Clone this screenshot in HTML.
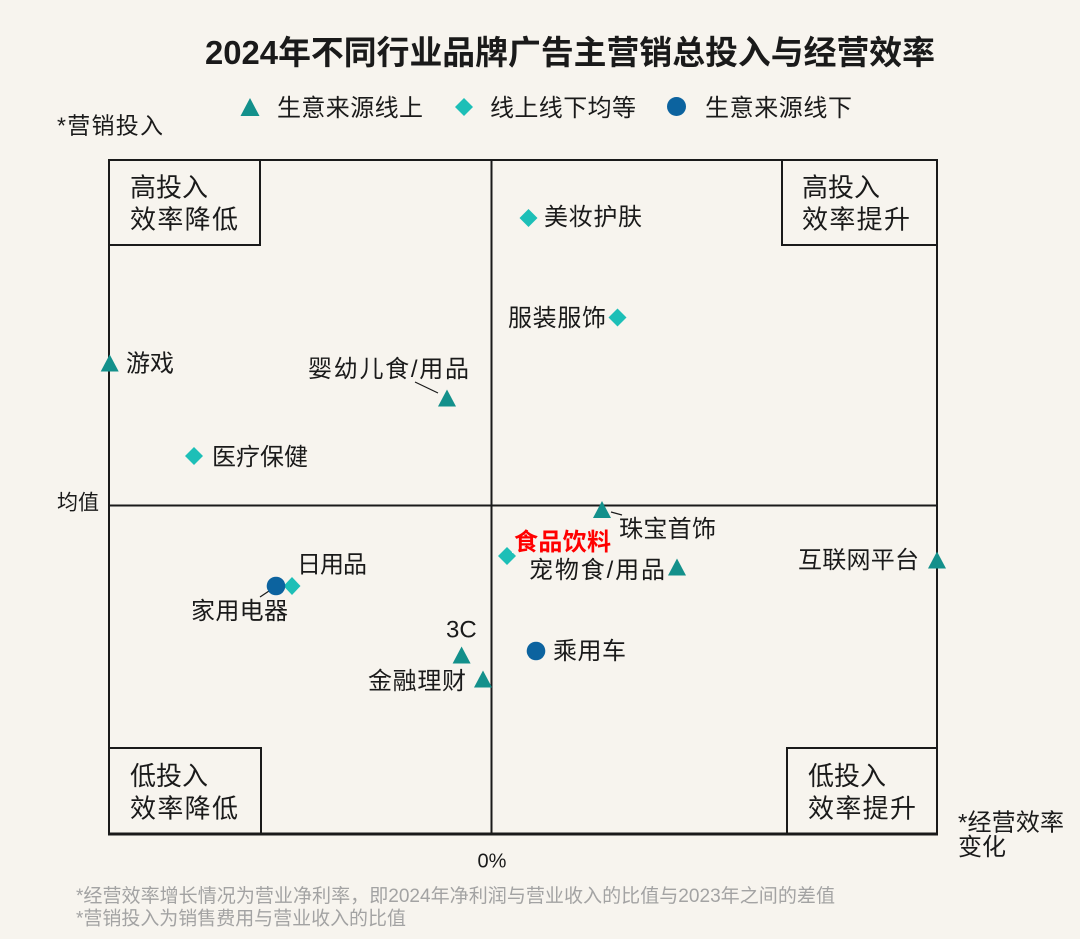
<!DOCTYPE html>
<html>
<head>
<meta charset="utf-8">
<style>
html,body{margin:0;padding:0;background:#f7f4ee;}
svg{display:block;}
text{font-family:"Liberation Sans","Noto Sans CJK SC",sans-serif;fill:#1a1a1a;}
</style>
</head>
<body>
<svg width="1080" height="939" viewBox="0 0 1080 939" xmlns="http://www.w3.org/2000/svg">
<rect x="0" y="0" width="1080" height="939" fill="#f7f4ee"/>

<!-- Title -->
<text x="205" y="64" font-size="33" font-weight="700" textLength="730" lengthAdjust="spacingAndGlyphs">2024年不同行业品牌广告主营销总投入与经营效率</text>

<!-- Legend -->
<polygon points="240.5,116 259.5,116 250,98" fill="#13908b"/>
<text x="277" y="116" font-size="24" textLength="146" lengthAdjust="spacing">生意来源线上</text>
<polygon points="464,98 473,107 464,116 455,107" fill="#1dbfb7"/>
<text x="490" y="116" font-size="24" textLength="146" lengthAdjust="spacing">线上线下均等</text>
<circle cx="676.5" cy="106.5" r="9.5" fill="#0c639f"/>
<text x="705" y="116" font-size="24" textLength="147" lengthAdjust="spacing">生意来源线下</text>

<!-- Axis titles -->
<text x="57" y="133.5" font-size="23" textLength="106" lengthAdjust="spacing">*营销投入</text>
<text x="57" y="509.5" font-size="21" textLength="42" lengthAdjust="spacing">均值</text>
<text x="492" y="867.5" font-size="20" text-anchor="middle">0%</text>
<text x="958" y="830.5" font-size="24" textLength="106" lengthAdjust="spacing">*经营效率</text>
<text x="958" y="855" font-size="24">变化</text>

<!-- Footnotes -->
<text x="76" y="902" font-size="19" style="fill:#a3a3a3" textLength="759" lengthAdjust="spacingAndGlyphs">*经营效率增长情况为营业净利率，即2024年净利润与营业收入的比值与2023年之间的差值</text>
<text x="76" y="924.5" font-size="19" style="fill:#a3a3a3" textLength="330" lengthAdjust="spacingAndGlyphs">*营销投入为销售费用与营业收入的比值</text>

<!-- Plot frame -->
<rect x="109" y="160" width="828" height="674" fill="none" stroke="#1a1a1a" stroke-width="2"/>
<line x1="108" y1="834" x2="938" y2="834" stroke="#1a1a1a" stroke-width="3"/>
<line x1="491.5" y1="160" x2="491.5" y2="834" stroke="#1a1a1a" stroke-width="2"/>
<line x1="109" y1="505.5" x2="937" y2="505.5" stroke="#1a1a1a" stroke-width="2"/>

<!-- Quadrant boxes -->
<rect x="109" y="160" width="151" height="85" fill="none" stroke="#1a1a1a" stroke-width="2"/>
<rect x="782" y="160" width="155" height="85" fill="none" stroke="#1a1a1a" stroke-width="2"/>
<rect x="109" y="748" width="152" height="86" fill="none" stroke="#1a1a1a" stroke-width="2"/>
<rect x="787" y="748" width="150" height="86" fill="none" stroke="#1a1a1a" stroke-width="2"/>

<text x="130" y="196.5" font-size="26">高投入</text>
<text x="130" y="228.5" font-size="26" textLength="108" lengthAdjust="spacing">效率降低</text>
<text x="802" y="196.5" font-size="26">高投入</text>
<text x="802" y="228.5" font-size="26" textLength="108" lengthAdjust="spacing">效率提升</text>
<text x="130" y="785" font-size="26">低投入</text>
<text x="130" y="817.5" font-size="26" textLength="108" lengthAdjust="spacing">效率降低</text>
<text x="808" y="785" font-size="26">低投入</text>
<text x="808" y="817.5" font-size="26" textLength="108" lengthAdjust="spacing">效率提升</text>

<!-- Leader lines -->
<line x1="415" y1="382" x2="438" y2="393" stroke="#1a1a1a" stroke-width="1.2"/>
<line x1="611" y1="512" x2="622" y2="515" stroke="#1a1a1a" stroke-width="1.2"/>
<line x1="260" y1="597" x2="269" y2="591" stroke="#1a1a1a" stroke-width="1.2"/>

<!-- Diamonds -->
<polygon points="194,447 203,456 194,465 185,456" fill="#1dbfb7"/>
<polygon points="528.5,209 537.5,218 528.5,227 519.5,218" fill="#1dbfb7"/>
<polygon points="617.5,308.5 626.5,317.5 617.5,326.5 608.5,317.5" fill="#1dbfb7"/>
<polygon points="507,547 516,556 507,565 498,556" fill="#1dbfb7"/>
<polygon points="292,577 300.5,586 292,595 283.5,586" fill="#1dbfb7"/>

<!-- Circles -->
<circle cx="276" cy="586" r="9.3" fill="#0c639f"/>
<circle cx="536" cy="651" r="9.3" fill="#0c639f"/>

<!-- Triangles -->
<polygon points="100.7,371.5 118.7,371.5 109.7,354.5" fill="#13908b"/>
<polygon points="438,406.5 456,406.5 447,389.5" fill="#13908b"/>
<polygon points="593,518 611,518 602,501" fill="#13908b"/>
<polygon points="668,575.5 686,575.5 677,558.5" fill="#13908b"/>
<polygon points="928,568.5 946,568.5 937,551.5" fill="#13908b"/>
<polygon points="452.6,663.5 470.6,663.5 461.6,646.5" fill="#13908b"/>
<polygon points="474,687.5 492,687.5 483,670.5" fill="#13908b"/>

<!-- Red label background (slightly overlaps diamond) -->
<rect x="512" y="528" width="100" height="25" fill="#f7f4ee"/>

<!-- Data labels -->
<text x="126" y="371.5" font-size="24" textLength="48" lengthAdjust="spacing">游戏</text>
<text x="308" y="377" font-size="24" textLength="161" lengthAdjust="spacing">婴幼儿食/用品</text>
<text x="212" y="465" font-size="24" textLength="96" lengthAdjust="spacing">医疗保健</text>
<text x="544" y="225" font-size="24" textLength="98" lengthAdjust="spacing">美妆护肤</text>
<text x="508" y="326" font-size="24" textLength="98" lengthAdjust="spacing">服装服饰</text>
<text x="619" y="537" font-size="24" textLength="97" lengthAdjust="spacing">珠宝首饰</text>
<text x="514" y="550" font-size="24" font-weight="700" style="fill:#ff0000" textLength="97" lengthAdjust="spacing">食品饮料</text>
<text x="529" y="578" font-size="24" textLength="136" lengthAdjust="spacing">宠物食/用品</text>
<text x="798" y="568" font-size="24" textLength="121" lengthAdjust="spacing">互联网平台</text>
<text x="297" y="572.5" font-size="24" textLength="70" lengthAdjust="spacing">日用品</text>
<text x="191" y="619" font-size="24" textLength="97" lengthAdjust="spacing">家用电器</text>
<text x="446" y="637.5" font-size="24">3C</text>
<text x="553" y="659" font-size="24" textLength="73" lengthAdjust="spacing">乘用车</text>
<text x="368" y="689" font-size="24" textLength="98" lengthAdjust="spacing">金融理财</text>
</svg>
</body>
</html>
